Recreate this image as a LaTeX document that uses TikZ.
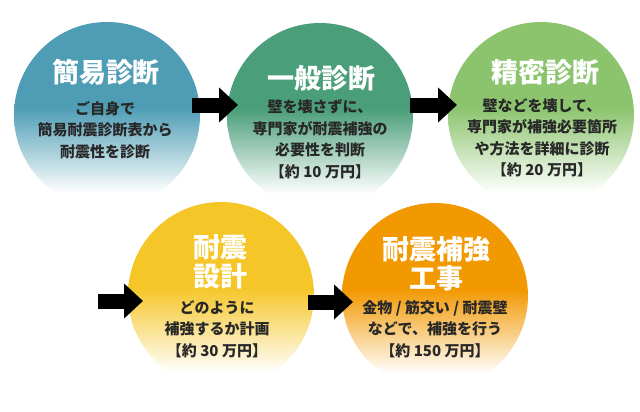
\documentclass[tikz,border=0pt]{standalone}
\usepackage{fontspec}
\newfontfamily\jp{Noto Sans CJK JP}
\usetikzlibrary{arrows.meta}
\definecolor{cA}{RGB}{78,157,181}
\definecolor{cB}{RGB}{74,158,122}
\definecolor{cC}{RGB}{140,196,110}
\definecolor{cD}{RGB}{245,198,40}
\definecolor{cE}{RGB}{242,152,0}
\definecolor{bodytxt}{RGB}{40,40,40}
\pgfdeclareverticalshading{shA}{100bp}{color(0bp)=(white); color(29bp)=(white); color(52bp)=(cA); color(100bp)=(cA)}
\pgfdeclareverticalshading{shB}{100bp}{color(0bp)=(white); color(29bp)=(white); color(52bp)=(cB); color(100bp)=(cB)}
\pgfdeclareverticalshading{shC}{100bp}{color(0bp)=(white); color(29bp)=(white); color(52bp)=(cC); color(100bp)=(cC)}
\pgfdeclareverticalshading{shD}{100bp}{color(0bp)=(white); color(29bp)=(white); color(52bp)=(cD); color(100bp)=(cD)}
\pgfdeclareverticalshading{shE}{100bp}{color(0bp)=(white); color(29bp)=(white); color(52bp)=(cE); color(100bp)=(cE)}
\tikzset{
  disc/.style={circle, minimum size=186pt, inner sep=0pt, draw=none},
  ttl/.style={font=\jp\bfseries\fontsize{27}{29}\selectfont, text=white, align=center, inner sep=0pt},
  bdy/.style={font=\jp\bfseries\fontsize{15}{21.5}\selectfont, text=bodytxt, align=center, inner sep=0pt},
  blockarrow/.style={line width=15pt, -{Triangle[length=19pt,width=34pt]}, black}
}
\begin{document}
\begin{tikzpicture}[x=1pt,y=-1pt]
\useasboundingbox (0,0) rectangle (640,412);
\fill[white] (0,0) rectangle (640,412);
% top row
\node[disc, shading=shA] (c1) at (107,115) {};
\node[disc, shading=shB] (c2) at (320,116) {};
\node[disc, shading=shC] (c3) at (541,115) {};
% bottom row
\node[disc, shading=shD] (c4) at (221,295) {};
\node[disc, shading=shE] (c5) at (435,296) {};
% texts
\node[ttl] (t1) at (106,72) {簡易診断};
\node[bdy] (b1) at (105,130) {ご自身で\\簡易耐震診断表から\\耐震性を診断};
\node[ttl] (t2) at (321,78) {一般診断};
\node[bdy] (b2) at (320,139) {壁を壊さずに、\\専門家が耐震補強の\\必要性を判断\\【約 10 万円】};
\node[ttl] (t3) at (545,72) {精密診断};
\node[bdy] (b3) at (542,138) {壁などを壊して、\\専門家が補強必要箇所\\や方法を詳細に診断\\【約 20 万円】};
\node[ttl] (t4) at (220,262) {耐震\\設計};
\node[bdy] (b4) at (217,329) {どのように\\補強するか計画\\【約 30 万円】};
\node[ttl] (t5) at (436,263.5) {耐震補強\\工事};
\node[bdy] (b5) at (435,329) {金物 / 筋交い / 耐震壁\\などで、補強を行う\\【約 150 万円】};
% arrows
\coordinate (a1s) at (192,105);
\coordinate (a1e) at (238,105);
\coordinate (a2s) at (410,105);
\coordinate (a2e) at (457,105);
\coordinate (a3s) at (98,301);
\coordinate (a3e) at (143,301);
\coordinate (a4s) at (308,302);
\coordinate (a4e) at (353,302);
\draw[blockarrow] (a1s) -- (a1e);
\draw[blockarrow] (a2s) -- (a2e);
\draw[blockarrow] (a3s) -- (a3e);
\draw[blockarrow] (a4s) -- (a4e);
\end{tikzpicture}
\end{document}
